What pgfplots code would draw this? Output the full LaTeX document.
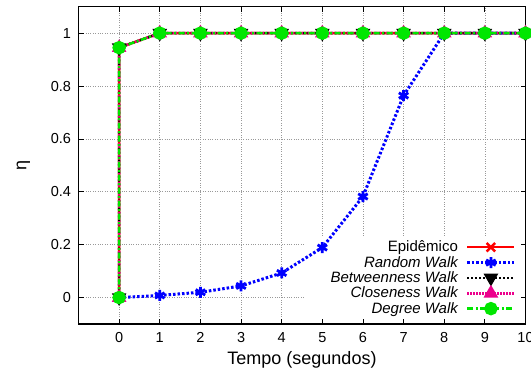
\documentclass[border=0pt]{standalone}
\usepackage{fontspec}
\setmainfont{Liberation Sans}
\usepackage{pgfplots}
\pgfplotsset{compat=1.18}
\definecolor{mygreen}{RGB}{0,230,0}
\begin{document}
\begin{tikzpicture}
\begin{axis}[
  set layers,
  at={(78.5bp,53bp)}, anchor=south west,
  scale only axis, width=447bp, height=317.3bp,
  xmin=-1, xmax=10, ymin=-0.1, ymax=1.1,
  xtick={0,1,...,10}, ytick={0,0.2,0.4,0.6,0.8,1},
  yticklabels={0,0.2,0.4,0.6,0.8,1},
  tick align=inside, tick pos=both,
  major tick length=5bp,
  axis line style={line width=1.2bp},
  tick style={line width=0.8bp, black},
  grid=major,
  major grid style={gray!80, dotted, line width=0.7bp},
  /pgf/number format/assume math mode=true,
  tick label style={font=\fontsize{14.5bp}{16bp}\selectfont},
  xticklabel style={yshift=-5bp},
  yticklabel style={xshift=-4bp},
  xlabel={Tempo (segundos)},
  ylabel={η},
  label style={font=\fontsize{18bp}{20bp}\selectfont},
  xlabel style={yshift=-2bp},
  ylabel style={yshift=14bp},
  clip=false,
  legend plot pos=right,
  legend cell align=right,
  legend style={at={(rel axis cs:0.979,0.022)}, anchor=south east,
    draw=none, fill=none, inner sep=0pt, row sep=-1bp, column sep=6bp,
    font=\fontsize{15bp}{17bp}\selectfont},
  legend image code/.code={
    \draw[#1, mark repeat=2, mark phase=2] plot coordinates {(0bp,0bp) (23.5bp,0bp) (47bp,0bp)};
  },
]
\addplot[draw=none, fill=white, on layer=axis grid, forget plot, mark=none]
  coordinates {(4.57,-0.1) (10,-0.1) (10,0.23) (4.57,0.23)} -- cycle;
\addplot[red, line width=2.5bp, mark=x, mark size=6bp, mark options={solid, line width=2.5bp}]
  coordinates {(0,0) (0,0.945) (1,1) (2,1) (3,1) (4,1) (5,1) (6,1) (7,1) (8,1) (9,1) (10,1)};
\addlegendentry{Epidêmico}
\addplot[blue, line width=3bp, dash pattern=on 2.5bp off 2bp, mark=asterisk, mark size=5.5bp, mark options={solid, line width=2.8bp}]
  coordinates {(0,0) (1,0.008) (2,0.02) (3,0.044) (4,0.093) (5,0.189) (6,0.382) (7,0.764) (8,1) (9,1) (10,1)};
\addlegendentry{\itshape Random Walk}
\addplot[black, line width=2.5bp, dash pattern=on 2bp off 2bp, mark=triangle*, mark size=6bp, mark options={solid, rotate=180}]
  coordinates {(0,0) (0,0.945) (1,1) (2,1) (3,1) (4,1) (5,1) (6,1) (7,1) (8,1) (9,1) (10,1)};
\addlegendentry{\itshape Betweenness Walk}
\addplot[magenta, line width=2.5bp, dash pattern=on 1.5bp off 1.5bp, mark=triangle*, mark size=6bp, mark options={solid}]
  coordinates {(0,0) (0,0.945) (1,1) (2,1) (3,1) (4,1) (5,1) (6,1) (7,1) (8,1) (9,1) (10,1)};
\addlegendentry{\itshape Closeness Walk}
\addplot[mygreen, line width=2.5bp, dash pattern=on 6bp off 2.5bp on 2bp off 2.5bp, mark=*, mark size=5.5bp, mark options={solid}]
  coordinates {(0,0) (0,0.945) (1,1) (2,1) (3,1) (4,1) (5,1) (6,1) (7,1) (8,1) (9,1) (10,1)};
\addlegendentry{\itshape Degree Walk}
\end{axis}
\pgfresetboundingbox
\path[use as bounding box] (0,0) rectangle (531bp,377bp);
\end{tikzpicture}
\end{document}
